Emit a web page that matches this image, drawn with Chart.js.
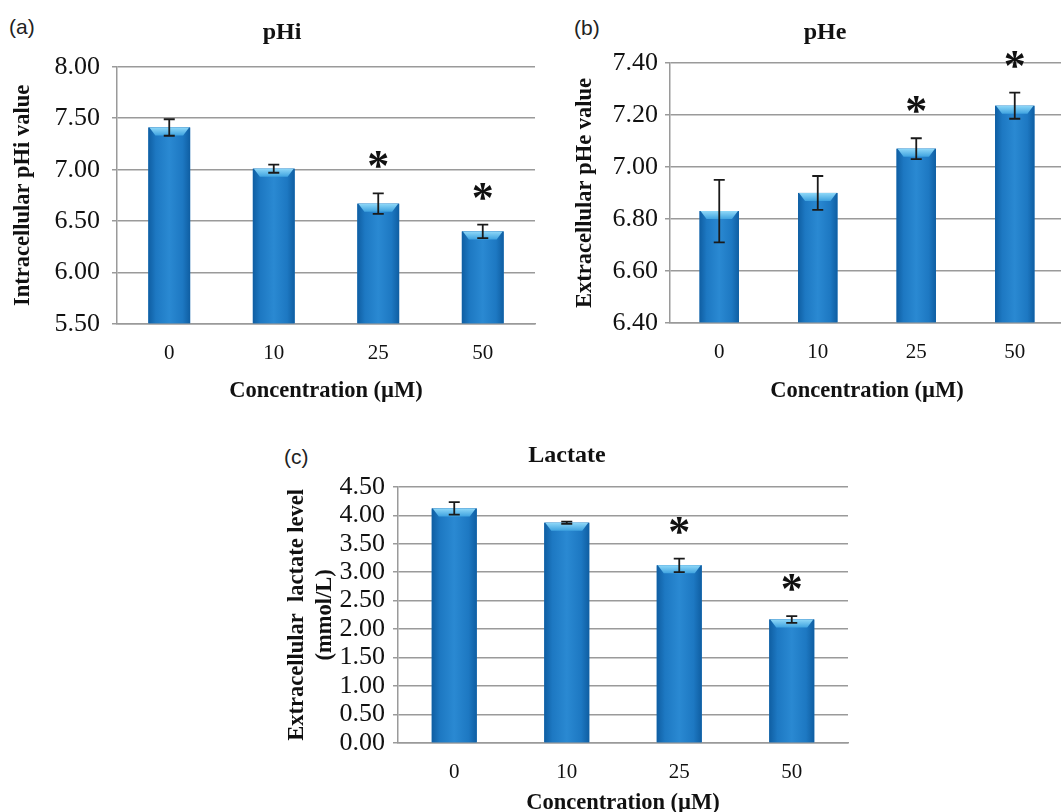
<!DOCTYPE html>
<html>
<head>
<meta charset="utf-8">
<script src="https://cdn.jsdelivr.net/npm/chart.js@4"></script>
<style>
  body { margin: 0; background: #fff; overflow: hidden; width: 1061px; height: 812px; position: relative; }
  canvas { position: absolute; }
  .tag { position: absolute; font-family: "Liberation Sans", Arial, sans-serif; font-size: 21px; line-height: 24px; color: #222; }
</style>
</head>
<body>
<div class="tag" style="left:9px;top:15px">(a)</div>
<div class="tag" style="left:574px;top:16px">(b)</div>
<div class="tag" style="left:284px;top:445px">(c)</div>
<canvas id="chartA" width="564" height="410" style="left:0;top:0"></canvas>
<canvas id="chartB" width="506" height="410" style="left:572px;top:0"></canvas>
<canvas id="chartC" width="594" height="392" style="left:270px;top:430px"></canvas>
<script>
// values
const concentrations = ['0', '10', '25', '50'];
const phiMeans = [7.41, 7.01, 6.67, 6.40];
const phiErrors = [0.08, 0.04, 0.10, 0.065];
const pheMeans = [6.83, 6.90, 7.07, 7.235];
const pheErrors = [0.12, 0.065, 0.04, 0.05];
const lactateMeans = [4.12, 3.87, 3.12, 2.17];
const lactateErrors = [0.11, 0.02, 0.12, 0.06];
const significant = [false, false, true, true];

const SERIF = "'Liberation Serif', 'Times New Roman', serif";
const GRID = '#9a9a9a';

// bevelled blue look of the bars
const barShading = {
    id: 'barShading',
    afterDatasetsDraw(chart) {
        const ctx = chart.ctx;
        const area = chart.chartArea;
        chart.getDatasetMeta(0).data.forEach(bar => {
            const left = bar.x - bar.width / 2;
            const right = bar.x + bar.width / 2;
            const base = Math.min(bar.base, area.bottom);
            const h = base - bar.y;
            ctx.save();
            const g = ctx.createLinearGradient(left, 0, right, 0);
            g.addColorStop(0, '#0f5ea2');
            g.addColorStop(0.18, '#1d78c2');
            g.addColorStop(0.5, '#2a89d2');
            g.addColorStop(0.82, '#1d78c2');
            g.addColorStop(1, '#0f5ea2');
            ctx.fillStyle = g;
            ctx.fillRect(left, bar.y, bar.width, h);
            const bevel = Math.min(8, h);
            const tg = ctx.createLinearGradient(0, bar.y, 0, bar.y + bevel);
            tg.addColorStop(0, '#8fd8f8');
            tg.addColorStop(1, '#3fa3e0');
            ctx.fillStyle = tg;
            ctx.beginPath();
            ctx.moveTo(left + 1, bar.y);
            ctx.lineTo(right - 1, bar.y);
            ctx.lineTo(right - 7, bar.y + bevel);
            ctx.lineTo(left + 7, bar.y + bevel);
            ctx.closePath();
            ctx.fill();
            ctx.restore();
        });
    }
};

// error bars and significance stars
const errorBars = {
    id: 'errorBars',
    afterDraw(chart, args, opts) {
        const ctx = chart.ctx;
        const yScale = chart.scales.y;
        const means = chart.data.datasets[0].data;
        chart.getDatasetMeta(0).data.forEach((bar, i) => {
            const top = yScale.getPixelForValue(means[i] + opts.errors[i]);
            const bottom = yScale.getPixelForValue(means[i] - opts.errors[i]);
            ctx.save();
            ctx.strokeStyle = '#1a1a1a';
            ctx.lineWidth = 1.8;
            ctx.beginPath();
            ctx.moveTo(bar.x, top); ctx.lineTo(bar.x, bottom);
            ctx.moveTo(bar.x - 5.5, top); ctx.lineTo(bar.x + 5.5, top);
            ctx.moveTo(bar.x - 5.5, bottom); ctx.lineTo(bar.x + 5.5, bottom);
            ctx.stroke();
            if (significant[i]) {
                ctx.fillStyle = '#111';
                ctx.font = 'bold 44px ' + SERIF;
                ctx.textAlign = 'center';
                ctx.textBaseline = 'alphabetic';
                ctx.fillText('*', bar.x, top - 13);
            }
            ctx.restore();
        });
    }
};

function makeChart(id, p) {
    return new Chart(document.getElementById(id), {
        type: 'bar',
        data: {
            labels: concentrations,
            datasets: [{
                data: p.means,
                base: p.min,
                backgroundColor: '#1d78c2',
                barPercentage: 0.4,
                categoryPercentage: 1.0
            }]
        },
        options: {
            responsive: false,
            animation: false,
            layout: { padding: 0 },
            plugins: {
                legend: { display: false },
                tooltip: { enabled: false },
                title: {
                    display: true,
                    text: p.title,
                    color: '#111',
                    font: { family: SERIF, size: 24, weight: 'bold', lineHeight: 1.2 },
                    padding: { top: p.titleTop, bottom: p.titleBottom }
                },
                errorBars: { errors: p.errors }
            },
            scales: {
                x: {
                    grid: { display: false, drawTicks: false },
                    border: { display: true, color: GRID, width: 1.5 },
                    ticks: { color: '#111', padding: 17, font: { family: SERIF, size: 21 } },
                    title: {
                        display: true,
                        text: 'Concentration (\u00b5M)',
                        color: '#111',
                        font: { family: SERIF, size: 22.5, weight: 'bold', lineHeight: 1.2 },
                        padding: { top: 0, bottom: p.xTitleBottom }
                    },
                    afterFit: s => { s.height = p.xHeight; }
                },
                y: {
                    min: p.min,
                    max: p.max,
                    grid: { color: GRID, lineWidth: 1.5, tickLength: 5 },
                    border: { display: true, color: GRID, width: 1.5 },
                    ticks: {
                        stepSize: p.step,
                        autoSkip: false,
                        color: '#111',
                        padding: p.tickPad,
                        font: { family: SERIF, size: 26 },
                        callback: v => Number(v).toFixed(2)
                    },
                    title: {
                        display: true,
                        text: p.yTitle,
                        color: '#111',
                        font: { family: SERIF, size: 22.5, weight: 'bold', lineHeight: p.yLine || 1.2 },
                        padding: { top: p.yTitleTop, bottom: 0 }
                    },
                    afterFit: s => { s.width = p.yWidth; }
                },
                // empty right-hand margin so the title centres like the original
                margin: {
                    type: 'linear',
                    position: 'right',
                    grid: { display: false },
                    border: { display: false },
                    ticks: { display: false },
                    afterFit: s => { s.width = p.rightGap; }
                }
            }
        },
        plugins: [barShading, errorBars]
    });
}

makeChart('chartA', {
    means: phiMeans, errors: phiErrors, min: 5.5, max: 8.0, step: 0.5,
    title: 'pHi', yTitle: 'Intracellular pHi value',
    yWidth: 117, xHeight: 86, rightGap: 29,
    titleTop: 18, titleBottom: 20, yTitleTop: 9.5, tickPad: 12, xTitleBottom: 5
});

makeChart('chartB', {
    means: pheMeans, errors: pheErrors, min: 6.4, max: 7.4, step: 0.2,
    title: 'pHe', yTitle: 'Extracellular pHe value',
    yWidth: 98, xHeight: 87, rightGap: 14,
    titleTop: 18, titleBottom: 16, yTitleTop: 0, tickPad: 7, xTitleBottom: 5
});

makeChart('chartC', {
    means: lactateMeans, errors: lactateErrors, min: 0, max: 4.5, step: 0.5,
    title: 'Lactate', yTitle: ['Extracellular  lactate level', '(mmol/L)'], yLine: 1.25,
    yWidth: 128, xHeight: 79, rightGap: 16,
    titleTop: 11, titleBottom: 17, yTitleTop: 13, tickPad: 8, xTitleBottom: 5.5
});
</script>
</body>
</html>
